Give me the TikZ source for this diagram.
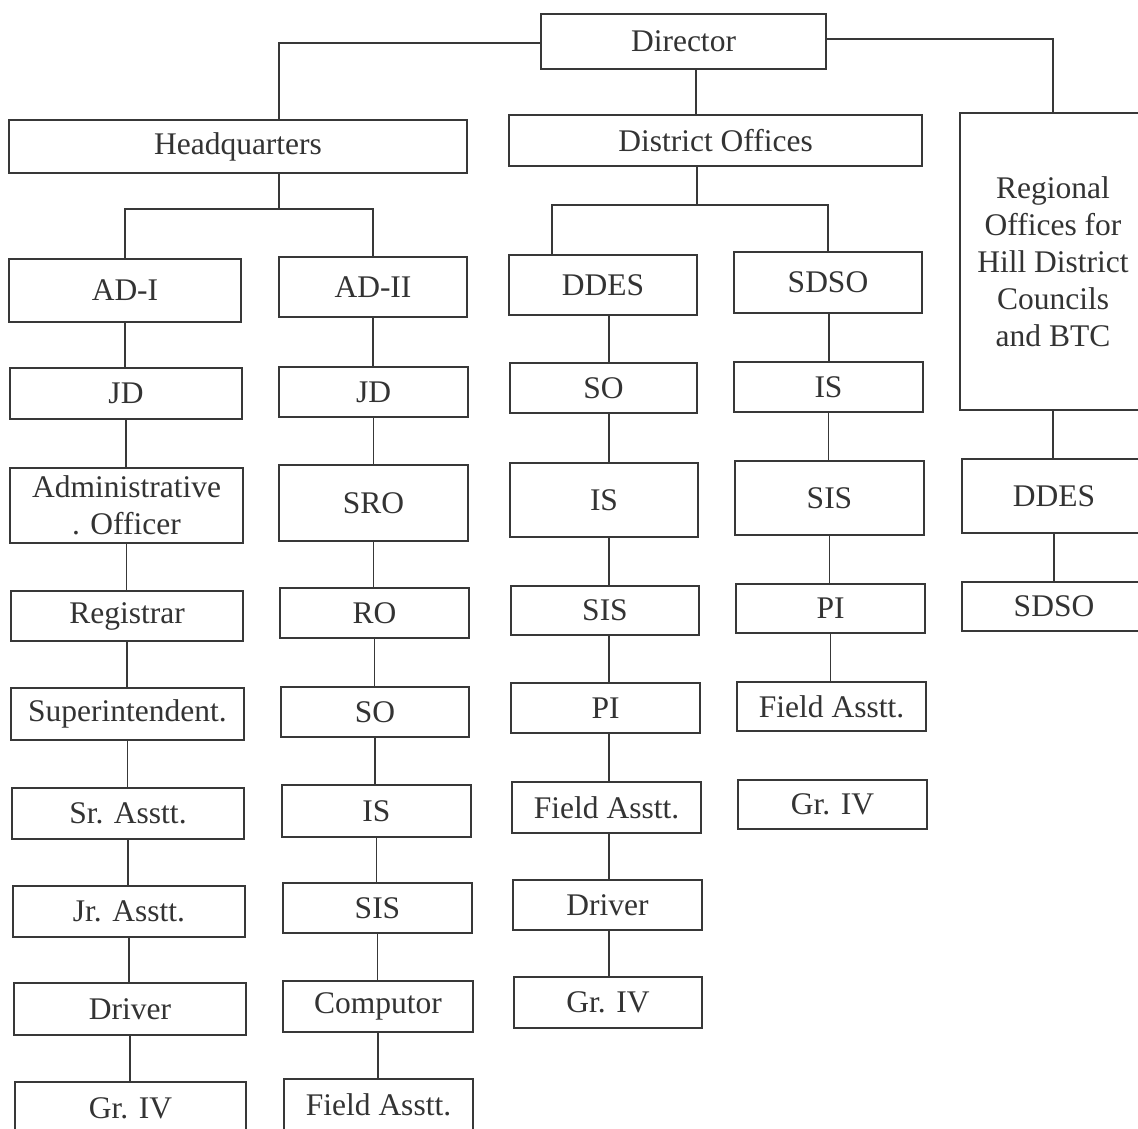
\documentclass[tikz,border=0pt]{standalone}
\usepackage{fontspec}
\setmainfont{Liberation Serif}
\begin{document}
\begin{tikzpicture}[x=1pt,y=-1pt,
  box/.style={draw=black!78,line width=1.4pt,inner sep=0pt,align=center,
    text=black!80,font=\fontsize{31.5}{37}\selectfont},
  link/.style={draw=black!78,line width=1.5pt}]
\useasboundingbox (0,0) rectangle (1138,1128);
\clip (0,0) rectangle (1138,1128);
\fill[white] (0,0) rectangle (1138,1128);
\newcommand\bx[6]{%
  \pgfmathsetmacro\cx{(#2+#4)/2}\pgfmathsetmacro\cy{(#3+#5)/2}%
  \pgfmathsetmacro\ww{#4-#2}\pgfmathsetmacro\hh{#5-#3}%
  \node[box,minimum width=\ww pt,minimum height=\hh pt] (#1) at (\cx,\cy) {#6};}
% top level
\bx{dir}{541}{14}{826}{69}{Director}
\bx{hq}{9}{120}{467}{173}{Headquarters}
\bx{dof}{509}{115}{922}{166}{District Offices}
\bx{reg}{960}{113}{1146}{410}{Regional\\Offices for\\Hill District\\Councils\\and BTC}
% column 1
\bx{ad1}{9}{259}{241}{322}{AD-I}
\bx{jd1}{10}{368}{242}{419}{JD}
\bx{ao}{10}{468}{243}{543}{Administrative\\. Officer}
\bx{rg1}{11}{591}{243}{641}{Registrar}
\bx{sup}{11}{688}{244}{740}{Superintendent.}
\bx{sr}{12}{788}{244}{839}{Sr. Asstt.}
\bx{jr}{13}{886}{245}{937}{Jr. Asstt.}
\bx{drv1}{14}{983}{246}{1035}{Driver}
\bx{gr1}{15}{1082}{246}{1134}{Gr. IV}
% column 2
\bx{ad2}{279}{257}{467}{317}{AD-II}
\bx{jd2}{279}{367}{468}{417}{JD}
\bx{sro}{279}{465}{468}{541}{SRO}
\bx{ro}{280}{588}{469}{638}{RO}
\bx{so2}{281}{687}{469}{737}{SO}
\bx{is2}{282}{785}{471}{837}{IS}
\bx{sis2}{283}{883}{472}{933}{SIS}
\bx{comp}{283}{981}{473}{1032}{Computor}
\bx{fa2}{284}{1079}{473}{1131}{Field Asstt.}
% column 3
\bx{ddes}{509}{255}{697}{315}{DDES}
\bx{so3}{510}{363}{697}{413}{SO}
\bx{is3}{510}{463}{698}{537}{IS}
\bx{sis3}{511}{586}{699}{635}{SIS}
\bx{pi3}{511}{683}{700}{733}{PI}
\bx{fa3}{512}{782}{701}{833}{Field Asstt.}
\bx{drv3}{513}{880}{702}{930}{Driver}
\bx{gr3}{514}{977}{702}{1028}{Gr. IV}
% column 4
\bx{sdso}{734}{252}{922}{313}{SDSO}
\bx{is4}{734}{362}{923}{412}{IS}
\bx{sis4}{735}{461}{924}{535}{SIS}
\bx{pi4}{736}{584}{925}{633}{PI}
\bx{fa4}{737}{682}{926}{731}{Field Asstt.}
\bx{gr4}{738}{780}{927}{829}{Gr. IV}
% column 5
\bx{ddes5}{962}{459}{1146}{533}{DDES}
\bx{sdso5}{962}{582}{1146}{631}{SDSO}
% top connectors
\coordinate (hqx) at (279,0);
\coordinate (hqj) at (279,209);
\coordinate (dj) at (697,205);
\draw[link] (dir.west |- 0,43) -| (hq.north -| hqx);
\draw[link] (hq.south -| hqx) -- (hqj);
\draw[link] (ad1.north) |- (hqj) -| (ad2.north);
\draw[link] (dir.south -| 696,0) -- (dof.north -| 696,0);
\draw[link] (dof.south -| dj) -- (dj);
\draw[link] (ddes.north -| 552,0) |- (dj) -| (sdso.north);
\draw[link] (dir.east |- 0,39) -| (reg.north);
% chains
\foreach \a/\b in {ad1/jd1,jd1/ao,ao/rg1,rg1/sup,sup/sr,sr/jr,jr/drv1,drv1/gr1,
  ad2/jd2,jd2/sro,sro/ro,ro/so2,so2/is2,is2/sis2,sis2/comp,comp/fa2,
  is4/sis4,sis4/pi4,pi4/fa4,reg/ddes5,ddes5/sdso5}
  \draw[link] (\a.south) -- (\a.south |- \b.north);
\foreach \a/\b in {ddes/so3,so3/is3,is3/sis3,sis3/pi3,pi3/fa3,fa3/drv3,drv3/gr3}
  \draw[link] (\a.south -| 609,0) -- (\b.north -| 609,0);
\draw[link] (sdso.south -| 829,0) -- (is4.north -| 829,0);
\end{tikzpicture}
\end{document}
